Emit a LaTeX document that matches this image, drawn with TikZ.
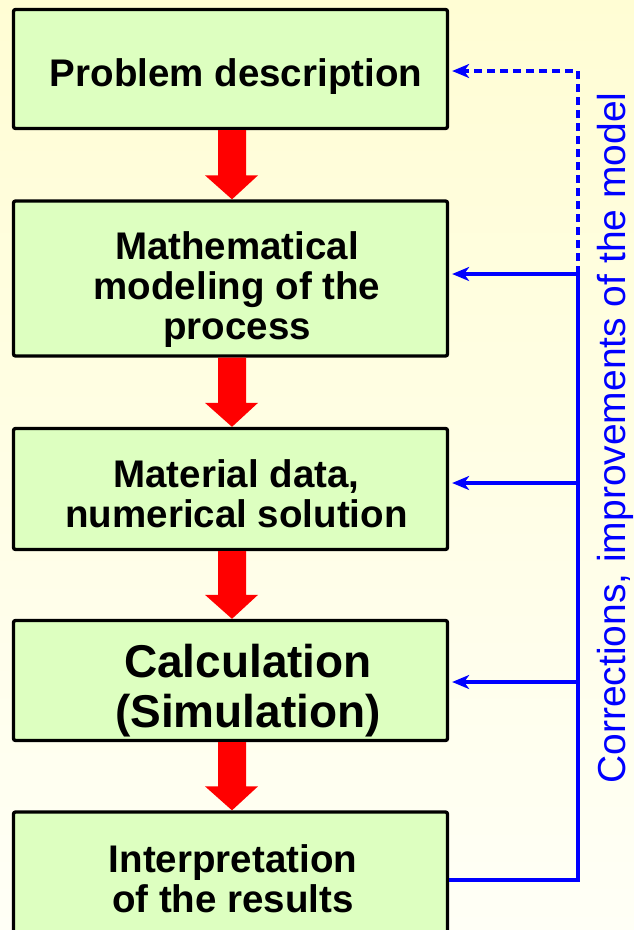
\documentclass[tikz,border=0pt]{standalone}
\usepackage{fontspec}
\setmainfont{Liberation Sans}
\usetikzlibrary{arrows.meta,calc}
\definecolor{bgtop}{RGB}{255,253,212}
\definecolor{bgbot}{RGB}{255,255,246}
\definecolor{boxfill}{RGB}{221,255,192}
\newcommand\redarrow[2]{%
  \fill[red] let \p1=(#1.south), \p2=(#2.north) in
    (218pt,\y1) -- (246pt,\y1) -- (246pt,\y2+24pt) -- (258pt,\y2+24pt) --
    (232pt,\y2) -- (205pt,\y2+24pt) -- (218pt,\y2+24pt) -- cycle;}
\begin{document}
\begin{tikzpicture}[x=1pt,y=-1pt,
  box/.style={draw=black, line width=3.3pt, fill=boxfill, rounded corners=2pt,
    minimum width=434pt, inner sep=0pt},
  lbl/.style={font=\fontsize{38.5}{40}\selectfont\bfseries, align=center,
    inner sep=0pt, anchor=base, text=black},
  lblbig/.style={lbl, font=\fontsize{46}{50}\selectfont\bfseries},
  fb/.style={draw=blue, line width=3.2pt},
  fbarrow/.style={fb, -{Stealth[length=17pt,width=14pt,inset=5pt]}, shorten >=3pt},
]
\clip (0,0) rectangle (634,930);
\shade[top color=bgtop, bottom color=bgbot] (0,0) rectangle (634,930);

% boxes
\node[box, minimum height=119pt] (b1) at (230.5,69) {};
\node[box, minimum height=155pt] (b2) at (230.5,278.5) {};
\node[box, minimum height=121pt] (b3) at (230.5,489) {};
\node[box, minimum height=120pt] (b4) at (230.5,680.5) {};
\node[box, minimum height=150pt] (b5) at (230.5,887) {};

% texts (base anchor = baseline of the last line)
\node[lbl] (t1) at (236,86) {Problem description};
\node[lbl] (t2) at (237,339) {Mathematical\\modeling of the\\process};
\node[lbl] (t3) at (236.5,527) {Material data,\\numerical solution};
\node[lblbig] (t4) at (248,727) {Calculation\\(Simulation)};
\node[lbl] (t5) at (233,912) {Interpretation\\of the results};

% red arrows
\redarrow{b1}{b2}
\redarrow{b2}{b3}
\redarrow{b3}{b4}
\redarrow{b4}{b5}

% feedback lines
\coordinate (c1) at (578,71);
\coordinate (c2) at (578,274);
\coordinate (c3) at (578,483);
\coordinate (c4) at (578,682);
\coordinate (c5) at (578,880);
\draw[fb] (b5.east |- c5) -- (c5) -- (c2);
\draw[fbarrow, dash pattern=on 8pt off 5pt] (c2) -- (c1) -- (b1.east |- c1);
\draw[fbarrow] (c2) -- (b2.east |- c2);
\draw[fbarrow] (c3) -- (b3.east |- c3);
\draw[fbarrow] (c4) -- (b4.east |- c4);

\node[rotate=90, anchor=base, text=blue, inner sep=0pt,
  font=\fontsize{39}{39}\selectfont] (note) at (625.5,438)
  {Corrections, improvements of the model};
\end{tikzpicture}
\end{document}
